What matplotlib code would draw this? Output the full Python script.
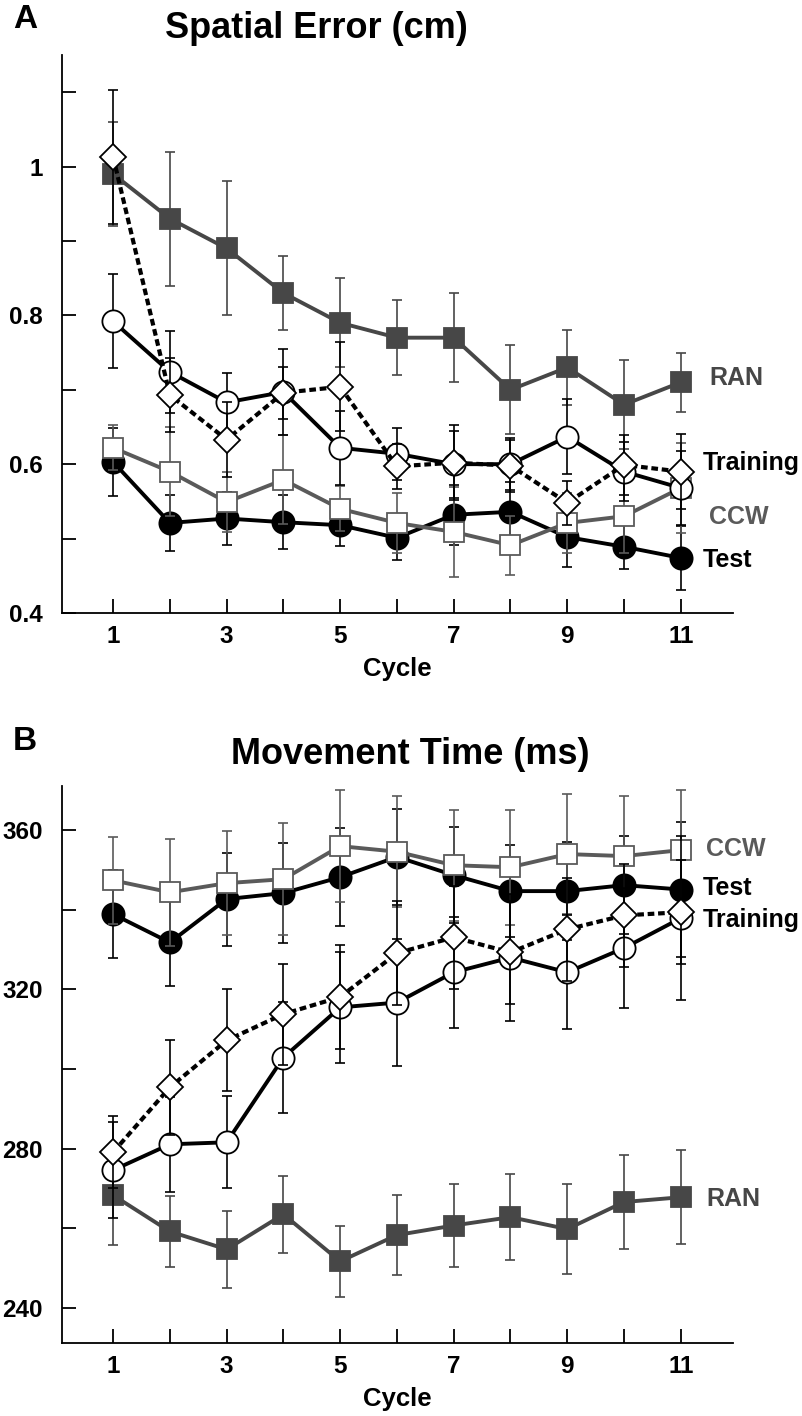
import matplotlib
matplotlib.use("Agg")
import matplotlib.pyplot as plt
import numpy as np

plt.rcParams['font.family'] = ['Liberation Sans', 'DejaVu Sans']
plt.rcParams['font.weight'] = 'bold'

# ---------- data ----------
cycles = [1, 2, 3, 4, 5, 6, 7, 8, 9, 10, 11]

# A: spatial error (cm)
ran_se = [0.99, 0.93, 0.89, 0.83, 0.79, 0.77, 0.77, 0.70, 0.73, 0.68, 0.71]
ran_se_err = [0.07, 0.09, 0.09, 0.05, 0.06, 0.05, 0.06, 0.06, 0.05, 0.06, 0.04]
train_se = [1.013, 0.693, 0.633, 0.696, 0.704, 0.597, 0.602, 0.598, 0.548, 0.599, 0.590]
train_se_err = [0.09, 0.05, 0.05, 0.035, 0.06, 0.03, 0.05, 0.035, 0.03, 0.04, 0.05]
circ_se = [0.792, 0.724, 0.683, 0.697, 0.622, 0.614, 0.600, 0.600, 0.637, 0.590, 0.568]
circ_se_err = [0.063, 0.055, 0.04, 0.058, 0.05, 0.035, 0.045, 0.035, 0.05, 0.04, 0.05]
ccw_se = [0.622, 0.590, 0.549, 0.579, 0.540, 0.521, 0.509, 0.491, 0.521, 0.530, 0.568]
ccw_se_err = [0.03, 0.06, 0.04, 0.06, 0.03, 0.04, 0.06, 0.04, 0.04, 0.05, 0.06]
test_se = [0.603, 0.521, 0.527, 0.522, 0.518, 0.501, 0.532, 0.536, 0.502, 0.489, 0.474]
test_se_err = [0.046, 0.038, 0.035, 0.036, 0.028, 0.03, 0.04, 0.04, 0.04, 0.03, 0.043]

# B: movement time (ms)
ccw_mt = [347.4, 344.4, 346.7, 347.7, 356.0, 354.6, 351.2, 350.7, 354.0, 353.5, 355.0]
ccw_mt_err = [11, 13.5, 13, 14, 14, 14, 14, 14.5, 15, 15, 15]
test_mt = [338.9, 331.8, 342.7, 344.2, 348.2, 353.3, 348.7, 344.7, 344.7, 346.2, 345.1]
test_mt_err = [11, 11, 11.7, 12.5, 12.3, 12, 12, 11.5, 12.3, 12.3, 17]
train_mt = [279.1, 295.4, 307.2, 313.8, 318.1, 329.1, 333.1, 329.3, 335.1, 338.6, 339.4]
train_mt_err = [9, 12, 12.8, 12.7, 13, 13, 13, 13, 13, 13, 13]
circ_mt = [274.6, 281.1, 281.6, 302.9, 315.5, 316.7, 324.3, 328.0, 324.3, 330.4, 337.9]
circ_mt_err = [12, 12, 11.6, 14, 14, 16, 14, 16, 14.3, 15, 20.6]
ran_mt = [268.3, 259.2, 254.7, 263.5, 251.7, 258.3, 260.7, 262.8, 259.8, 266.6, 267.8]
ran_mt_err = [12.6, 9, 9.7, 9.6, 9, 10, 10.4, 10.8, 11.3, 11.7, 11.8]

GRIS = '#474747'
GRIS2 = '#5a5a5a'


def serie(ax, y, err, estilo):
    ax.errorbar(cycles, y, yerr=err, fmt='none', ecolor=estilo['ec'],
                elinewidth=1.2, capsize=3.6, capthick=1.2, zorder=estilo['z'] - 0.5)
    ax.plot(cycles, y, color=estilo['lc'], lw=estilo['lw'], ls=estilo['ls'],
            marker=estilo['m'], ms=estilo['ms'], mfc=estilo['fc'],
            mec=estilo['mc'], mew=1.3, zorder=estilo['z'])


ran_st = dict(ec=GRIS, lc=GRIS, lw=2.8, ls='-', m='s', ms=14.5, fc=GRIS, mc=GRIS, z=3)
test_st = dict(ec='black', lc='black', lw=2.8, ls='-', m='o', ms=16, fc='black', mc='black', z=4)
ccw_st = dict(ec=GRIS2, lc=GRIS2, lw=2.8, ls='-', m='s', ms=14, fc='white', mc=GRIS2, z=5)
circ_st = dict(ec='black', lc='black', lw=2.8, ls='-', m='o', ms=16, fc='white', mc='black', z=6)
train_st = dict(ec='black', lc='black', lw=3.0, ls=(0, (1.6, 0.9)), m='D', ms=13, fc='white', mc='black', z=7)


def ejes(ax, ylim, mayores, menores, etiquetas):
    ax.set_xlim(0.1, 11.92)
    ax.set_ylim(*ylim)
    for s in ['top', 'right']:
        ax.spines[s].set_visible(False)
    for s in ['left', 'bottom']:
        ax.spines[s].set_linewidth(1.3)
    ax.set_xticks(cycles)
    ax.set_xticklabels([str(c) if c % 2 == 1 else '' for c in cycles])
    ax.set_yticks(mayores)
    ax.set_yticklabels(etiquetas)
    ax.set_yticks(menores, minor=True)
    ax.tick_params(axis='both', direction='in', length=10, width=1.3, labelsize=17.5)
    ax.tick_params(axis='x', pad=9)
    ax.tick_params(axis='y', pad=14)
    ax.tick_params(axis='y', which='minor', direction='in', length=10, width=1.3)
    ax.set_xlabel('Cycle', fontsize=18.5, fontweight='bold', labelpad=6)


fig = plt.figure(figsize=(8.02, 14.16), dpi=100)

# ---- panel A ----
axA = fig.add_axes([0.0773, 0.5671, 0.8367, 0.3941])
serie(axA, ran_se, ran_se_err, ran_st)
serie(axA, test_se, test_se_err, test_st)
serie(axA, ccw_se, ccw_se_err, ccw_st)
serie(axA, circ_se, circ_se_err, circ_st)
serie(axA, train_se, train_se_err, train_st)
ejes(axA, (0.4, 1.15), [0.4, 0.6, 0.8, 1.0], [0.5, 0.7, 0.9, 1.1],
     ['0.4', '0.6', '0.8', '1'])
axA.text(11.5, 0.716, 'RAN', color=GRIS, fontsize=18, fontweight='bold', va='center')
axA.text(11.38, 0.602, 'Training', color='black', fontsize=18, fontweight='bold', va='center')
axA.text(11.5, 0.529, 'CCW', color=GRIS2, fontsize=18, fontweight='bold', va='center')
axA.text(11.38, 0.471, 'Test', color='black', fontsize=18, fontweight='bold', va='center')

# ---- panel B ----
axB = fig.add_axes([0.0773, 0.0516, 0.8367, 0.3933])
serie(axB, ran_mt, ran_mt_err, ran_st)
serie(axB, test_mt, test_mt_err, test_st)
serie(axB, ccw_mt, ccw_mt_err, ccw_st)
serie(axB, circ_mt, circ_mt_err, circ_st)
serie(axB, train_mt, train_mt_err, train_st)
ejes(axB, (231.2, 371.1), [240, 280, 320, 360], [260, 300, 340],
     ['240', '280', '320', '360'])
axB.text(11.45, 267.3, 'RAN', color=GRIS, fontsize=18, fontweight='bold', va='center')
axB.text(11.45, 355.3, 'CCW', color=GRIS2, fontsize=18, fontweight='bold', va='center')
axB.text(11.38, 345.5, 'Test', color='black', fontsize=18, fontweight='bold', va='center')
axB.text(11.38, 337.5, 'Training', color='black', fontsize=18, fontweight='bold', va='center')

# titulos y letras
fig.text(0.394, 0.980, 'Spatial Error (cm)', fontsize=26, fontweight='bold', ha='center', va='center')
fig.text(0.511, 0.467, 'Movement Time (ms)', fontsize=26, fontweight='bold', ha='center', va='center')
fig.text(0.031, 0.986, 'A', fontsize=24, fontweight='bold', ha='center', va='center')
fig.text(0.031, 0.476, 'B', fontsize=24, fontweight='bold', ha='center', va='center')

plt.savefig('out.png', dpi=100)
